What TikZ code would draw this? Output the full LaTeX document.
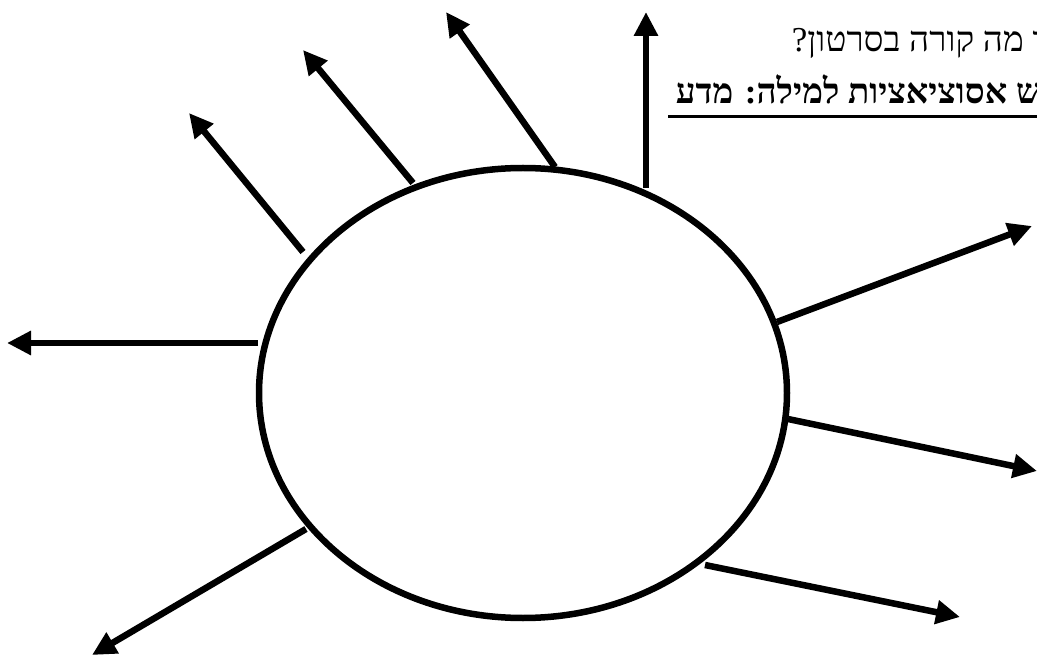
\documentclass[tikz,border=0pt]{standalone}
\usepackage{fontspec}
\usetikzlibrary{arrows.meta,shapes.geometric}
\newfontfamily\hebfont[Script=Hebrew]{Liberation Serif}
\TeXXeTstate=1
\tikzset{
  ray/.style={line width=6.5pt,-{Triangle[length=24pt,width=23pt]}},
  bubble/.style={draw,ellipse,line width=6.5pt,inner sep=0pt,minimum width=528pt,minimum height=450pt},
  heb/.style={font=\hebfont\fontsize{35}{40}\selectfont,inner sep=0pt},
  hebb/.style={font=\hebfont\bfseries\fontsize{35}{40}\selectfont,inner sep=0pt}
}
\begin{document}
\begin{tikzpicture}[x=1pt,y=-1pt]
\useasboundingbox (0,0) rectangle (1037,655);
\node[bubble] (c) at (523,393) {};
% text
\node[heb,anchor=base east] (t1) at (1050,52) {\beginR ר מה קורה בסרטון?\endR};
\node[hebb,anchor=base east] (t2) at (1041,104) {\beginR ש אסוציאציות למילה: מדע\endR};
\coordinate (u1) at (668,117);
\coordinate (u2) at (1040,117);
\draw[line width=3pt] (u1) -- (u2);
% ray endpoints
\coordinate (s1) at (303,252); \coordinate (e1) at (189,113);
\coordinate (s2) at (413,183); \coordinate (e2) at (303,50);
\coordinate (s3) at (555,167); \coordinate (e3) at (446,12);
\coordinate (s4) at (646,188); \coordinate (e4) at (646,12);
\coordinate (s5) at (777,322); \coordinate (e5) at (1032,226);
\coordinate (s6) at (788,419); \coordinate (e6) at (1037,471);
\coordinate (s7) at (705,565); \coordinate (e7) at (960,617);
\coordinate (s8) at (306,529); \coordinate (e8) at (92,655);
\coordinate (s9) at (258,343); \coordinate (e9) at (7,343);
\foreach \i in {1,...,9} {\draw[ray] (s\i) -- (e\i);}
\end{tikzpicture}
\end{document}
